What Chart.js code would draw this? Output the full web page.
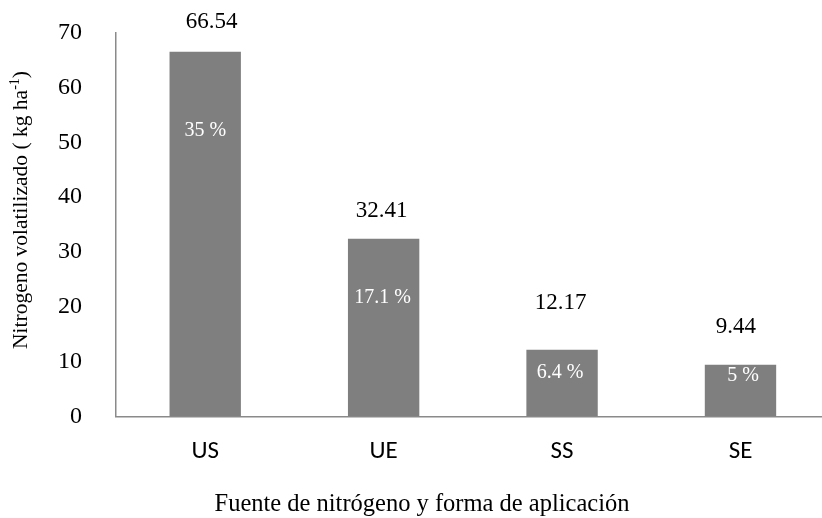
<!DOCTYPE html>
<html>
<head>
<meta charset="utf-8">
<script src="https://cdn.jsdelivr.net/npm/chart.js@4/dist/chart.umd.min.js"></script>
<style>
  html, body { margin: 0; padding: 0; background: #ffffff; overflow: hidden; }
  #wrap { width: 822px; height: 518px; overflow: hidden; position: relative; }
  canvas { display: block; }
</style>
</head>
<body>
<div id="wrap"><canvas id="chart" width="836" height="518"></canvas></div>
<script>
// Fuentes de nitrógeno y forma de aplicación
const categories = ['US', 'UE', 'SS', 'SE'];
// Nitrógeno volatilizado (kg ha-1)
const volatilized = [66.54, 32.41, 12.17, 9.44];
// Porcentaje del nitrógeno aplicado que se volatilizó
const volatilizedShare = [35, 17.1, 6.4, 5];
// Marcas del eje Y
const yTicks = [0, 10, 20, 30, 40, 50, 60, 70];

const SERIF = '"Liberation Serif", "Times New Roman", Times, serif';
const SANS = 'Carlito, "Open Sans", "Liberation Sans", sans-serif';

function fmtShare(v) { return v + ' %'; }

const annotations = {
  id: 'annotations',
  afterDatasetsDraw(chart, args, opts) {
    const ctx = chart.ctx;
    const meta = chart.getDatasetMeta(0);
    ctx.save();
    ctx.textAlign = 'center';
    ctx.textBaseline = 'middle';
    meta.data.forEach((bar, i) => {
      // value above the bar
      ctx.font = '23px ' + SERIF;
      ctx.fillStyle = '#000000';
      const vo = opts.valueOffsets[i];
      ctx.fillText(volatilized[i].toFixed(2), bar.x + vo[0], bar.y - vo[1]);
      // share inside the bar
      ctx.font = '20px ' + SERIF;
      ctx.fillStyle = '#ffffff';
      const so = opts.shareOffsets[i];
      ctx.fillText(fmtShare(volatilizedShare[i]), bar.x + so[0], bar.y + so[1]);
    });

    // x-axis title
    ctx.font = '24.5px ' + SERIF;
    ctx.fillStyle = '#000000';
    ctx.textAlign = 'center';
    ctx.textBaseline = 'alphabetic';
    ctx.fillText('Fuente de nitrógeno y forma de aplicación', opts.xTitleAt[0], opts.xTitleAt[1]);

    // y-axis title with superscript
    const main = 'Nitrogeno volatilizado ( kg ha';
    const sup = '-1';
    const close = ')';
    const fMain = '21.5px ' + SERIF;
    const fSup = '14px ' + SERIF;
    ctx.font = fMain;
    const wMain = ctx.measureText(main).width;
    const wClose = ctx.measureText(close).width;
    ctx.font = fSup;
    const wSup = ctx.measureText(sup).width;
    const total = wMain + wSup + wClose;
    ctx.translate(opts.yTitleAt[0], opts.yTitleAt[1]);
    ctx.rotate(-Math.PI / 2);
    ctx.textAlign = 'left';
    let x = -total / 2;
    ctx.font = fMain;
    ctx.fillText(main, x, 0);
    x += wMain;
    ctx.font = fSup;
    ctx.fillText(sup, x, -8.5);
    x += wSup;
    ctx.font = fMain;
    ctx.fillText(close, x, 0);
    ctx.restore();
  }
};

new Chart(document.getElementById('chart'), {
  type: 'bar',
  data: {
    labels: categories,
    datasets: [{
      data: volatilized,
      backgroundColor: '#7f7f7f',
      borderWidth: 0,
      barPercentage: 0.4,
      categoryPercentage: 1.0
    }]
  },
  plugins: [annotations],
  options: {
    responsive: false,
    devicePixelRatio: 1,
    animation: false,
    layout: { padding: { top: 32.7, right: 6.3, left: 0, bottom: 0 } },
    plugins: {
      legend: { display: false },
      tooltip: { enabled: false },
      annotations: {
        valueOffsets: [[6.5, 29.5], [-2, 28.3], [-1.5, 47], [-4.7, 38]],
        shareOffsets: [[0, 79.3], [-1, 59.2], [-2, 22.5], [2.5, 10.7]],
        xTitleAt: [422, 511],
        yTitleAt: [27, 210]
      }
    },
    scales: {
      x: {
        grid: { display: false },
        border: { display: true, color: '#8a8a8a', width: 1.5 },
        ticks: {
          color: '#000000',
          font: { family: SANS, size: 25, lineHeight: 1.2 },
          padding: 12.5,
          maxRotation: 0
        },
        afterFit(scale) {
          scale.height = 101.5;
          scale.paddingLeft = 0;
          scale.paddingRight = 0;
        }
      },
      y: {
        min: 0,
        max: 70,
        afterBuildTicks(scale) { scale.ticks = yTicks.map(v => ({ value: v })); },
        grid: { display: false },
        border: { display: true, color: '#8a8a8a', width: 1.5 },
        ticks: {
          color: '#000000',
          font: { family: SERIF, size: 24 },
          padding: 26
        },
        afterFit(scale) {
          scale.width = 116;
          scale.paddingTop = 0;
          scale.paddingBottom = 0;
        }
      }
    }
  }
});
</script>
</body>
</html>
